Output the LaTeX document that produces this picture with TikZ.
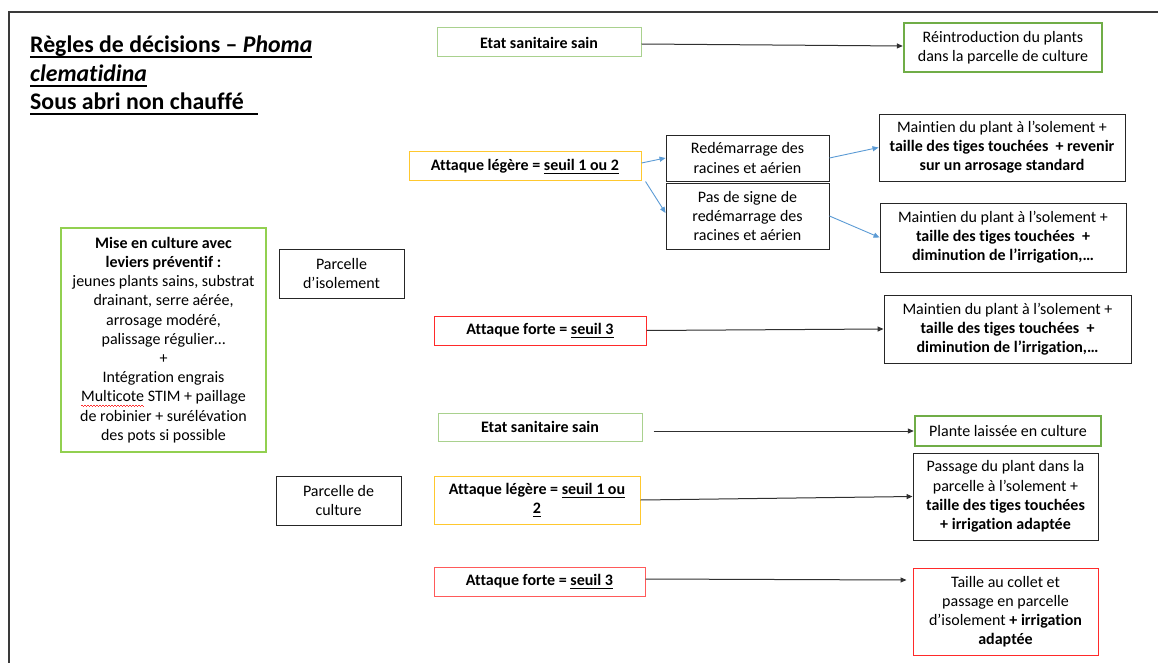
\documentclass[tikz,border=0pt]{standalone}
\usepackage{fontspec}
\setmainfont[Ligatures={NoCommon}]{Carlito}
\usetikzlibrary{arrows.meta}
\definecolor{boxgray}{HTML}{262626}
\definecolor{framegray}{HTML}{3A3A3A}
\definecolor{arrgray}{HTML}{303030}
\definecolor{lightgreen}{HTML}{A9D18E}
\definecolor{midgreen}{HTML}{70AD47}
\definecolor{limegreen}{HTML}{92D050}
\definecolor{gold}{HTML}{FFC82E}
\definecolor{boxred}{HTML}{FF2A2A}
\definecolor{pinkred}{HTML}{FF5A5A}
\definecolor{arrblue}{HTML}{5B9BD5}
\definecolor{spellred}{HTML}{FF3030}
\def\uldp{3.4pt}\def\ulth{1pt}
\newcommand\ulx[2][0pt]{\setbox0=\hbox{#2}\rlap{\rule[-\uldp]{\dimexpr\wd0+#1\relax}{\ulth}}\box0}
\newcommand\spellwave[1]{\setbox0=\hbox{#1}\rlap{\raisebox{-3.4pt}{\color{spellred}\leaders\hbox to 3pt{\rule[0pt]{1.5pt}{0.7pt}\rule[-0.9pt]{1.5pt}{0.7pt}}\hskip\wd0}}\box0}
\begin{document}
\begin{tikzpicture}[x=1pt,y=-1pt,
  box/.style={draw=boxgray, line width=0.9pt, inner sep=0pt, align=center,
    font=\fontsize{16}{19.2}\selectfont},
  sainbox/.style={box, draw=lightgreen, line width=1pt},
  goodbox/.style={box, draw=midgreen, line width=2.4pt},
  legbox/.style={box, draw=gold, line width=1pt},
  fortebox/.style={box, draw=boxred, line width=1pt},
  titletext/.style={anchor=base west, inner sep=0pt,
    font=\fontsize{23.8}{28.5}\selectfont\bfseries},
  arr/.style={draw=arrgray, line width=1pt, -{Triangle[length=6pt,width=5pt]}},
  barr/.style={draw=arrblue, line width=0.9pt, -{Triangle[length=6pt,width=5pt]}}
]
\useasboundingbox (0,0) rectangle (1158,663);
\fill[white] (0,0) rectangle (1158,663);
% page frame
\coordinate (fTL) at (9,12);
\coordinate (fTR) at (1158,12);
\coordinate (fBL) at (9,663);
\draw[framegray, line width=1.3pt] (fBL) -- (fTL) -- (fTR);

% title
{\def\uldp{4.8pt}\def\ulth{1.5pt}
\node[titletext] (title1) at (30,53) {\ulx{Règles de décisions – \textit{Phoma}}};
\node[titletext] (title2) at (30,82) {\ulx{\textit{clematidina}}};
\node[titletext] (title3) at (30,110) {\ulx[14pt]{Sous abri non chauffé}};
}

% left column
\node[goodbox, draw=limegreen, minimum width=205pt, minimum height=224pt] (mise) at (163.5,340) {%
\textbf{Mise en culture avec}\\
\textbf{leviers préventif :}\\
jeunes plants sains, substrat\\
drainant, serre aérée,\\
arrosage modéré,\\
palissage régulier…\\
+\\
Intégration engrais\\
\spellwave{Multicote}\ STIM + paillage\\
de robinier + surélévation\\
des pots si possible};

\node[box, minimum width=125pt, minimum height=49pt] (isol) at (341.5,273.5) {Parcelle\\d’isolement};
\node[box, minimum width=125pt, minimum height=49pt] (culture) at (338.5,500.5) {Parcelle de\\culture};

% upper branch (isolement)
\node[sainbox, minimum width=204pt, minimum height=29pt] (etat1) at (539,42.5) {\textbf{Etat sanitaire sain}};
\node[goodbox, minimum width=198pt, minimum height=49pt] (reint) at (1003,47.5) {Réintroduction du plants\\dans la parcelle de culture};

\node[legbox, minimum width=232pt, minimum height=29pt] (leg1) at (525,166.5) {\textbf{Attaque légère = \ulx{seuil 1 ou 2}}};
\node[box, minimum width=163pt, minimum height=46pt] (redem) at (747.5,158) {Redémarrage des\\racines et aérien};
\node[box, minimum width=163pt, minimum height=66pt] (pasde) at (747.5,216) {Pas de signe de\\redémarrage des\\racines et aérien};
\node[box, minimum width=246pt, minimum height=67pt] (maint1) at (1002,147.5) {Maintien du plant à l’solement +\\\textbf{taille des tiges touchées \ + revenir}\\\textbf{sur un arrosage standard}};
\node[box, minimum width=246pt, minimum height=69pt] (maint2) at (1003,237.5) {Maintien du plant à l’solement +\\\textbf{taille des tiges touchées \ +}\\\textbf{diminution de l’irrigation,…}};

\node[fortebox, minimum width=212pt, minimum height=29pt] (forte1) at (540,330.5) {\textbf{Attaque forte = \ulx{seuil 3}}};
\node[box, minimum width=247pt, minimum height=68pt] (maint3) at (1007.5,329) {Maintien du plant à l’solement +\\\textbf{taille des tiges touchées \ +}\\\textbf{diminution de l’irrigation,…}};

% lower branch (culture)
\node[sainbox, minimum width=204pt, minimum height=28pt] (etat2) at (540,427) {\textbf{Etat sanitaire sain}};
\node[goodbox, minimum width=186pt, minimum height=30pt] (plante) at (1008,431) {Plante laissée en culture};

\node[legbox, minimum width=206pt, minimum height=48pt] (leg2) at (537,500) {\textbf{Attaque légère = \ulx{seuil 1 ou}}\\\textbf{\ulx{2}}};
\node[box, minimum width=185pt, minimum height=87pt] (passage) at (1005.5,496.5) {Passage du plant dans la\\parcelle à l’solement +\\\textbf{taille des tiges touchées}\\\textbf{+ irrigation adaptée}};

\node[fortebox, draw=pinkred, minimum width=211pt, minimum height=29pt] (forte2) at (539.5,581.5) {\textbf{Attaque forte = \ulx{seuil 3}}};
\node[fortebox, minimum width=185pt, minimum height=87pt] (taille) at (1005.5,611.5) {Taille au collet et\\passage en parcelle\\d’isolement \textbf{+ irrigation}\\\textbf{adaptée}};

% connectors
\draw[arr] ([yshift=-1.5pt]etat1.east) -- ([yshift=1.5pt]reint.west);
\draw[barr] ([yshift=3.5pt]leg1.east) -- (redem.west);
\draw[barr] ([xshift=4pt]leg1.south east) -- ([yshift=3pt]pasde.west);
\draw[barr] (redem.east) -- (maint1.west);
\draw[barr] (pasde.east) -- (maint2.west);
\draw[arr] (forte1.east) -- (maint3.west);
\draw[arr] ([xshift=11pt,yshift=-4pt]etat2.east) -- (plante.west);
\draw[arr] (leg2.east) -- (passage.west);
\draw[arr] ([yshift=2.5pt]forte2.east) -- ([xshift=-6pt,yshift=31.5pt]taille.west);
\end{tikzpicture}
\end{document}
